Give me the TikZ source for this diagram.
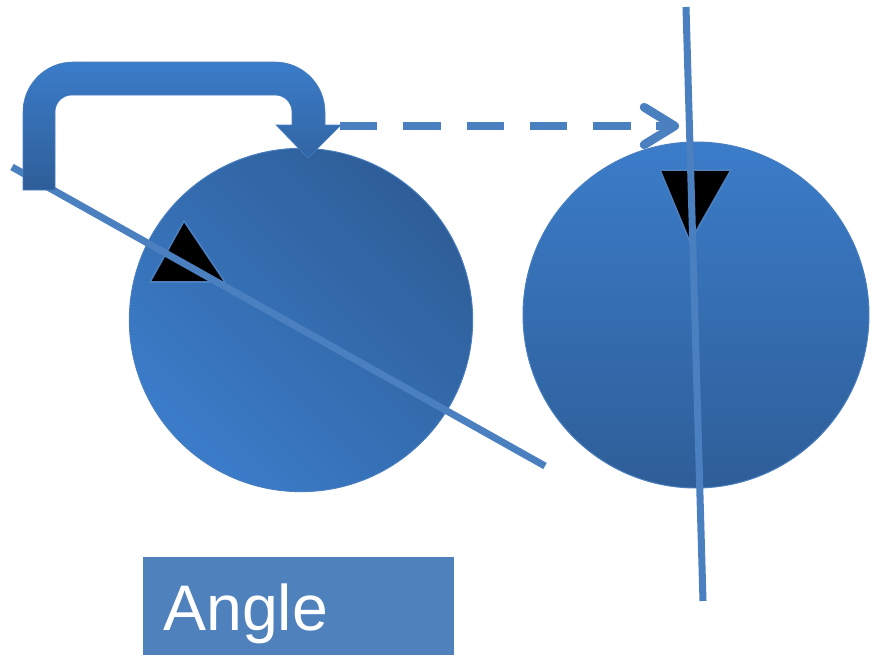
\documentclass[tikz,border=0pt]{standalone}
\usepackage{fontspec}
\setsansfont{Liberation Sans}
\usetikzlibrary{arrows.meta,positioning}
\definecolor{cLight}{RGB}{59,124,201}
\definecolor{cDark}{RGB}{46,94,152}
\definecolor{cLine}{RGB}{74,127,192}
\definecolor{cLabel}{RGB}{79,129,189}

\begin{document}
\begin{tikzpicture}[
    x=0.03cm, y=-0.03cm,
    disc/.style={circle,draw=cLine,line width=0.8pt,inner sep=0pt},
    axis/.style={draw=cLine,line width=6pt},
    marker/.style={fill=black,draw=cLine,line width=1.4pt,line join=round},
    labelbox/.style={rectangle,fill=cLabel,inner sep=0pt,minimum width=9.33cm,minimum height=2.94cm},
    >={Straight Barb[length=26pt,width=32pt,round]}
  ]
  \useasboundingbox (0,0) rectangle (883,660);
  % Discs
  \node[disc,minimum size=10.3cm,top color=cDark,bottom color=cLight,shading angle=-45] (leftDisc) at (301,320) {};
  \node[disc,minimum size=10.38cm,top color=cLight,bottom color=cDark] (rightDisc) at (696,315) {};
  % Markers
  \coordinate (lTop) at (184,221);
  \coordinate (lLeft) at (150,282);
  \coordinate (lRight) at (225,282);
  \draw[marker] (lTop) -- (lRight) -- (lLeft) -- cycle;
  \coordinate (rLeft) at (660,170);
  \coordinate (rRight) at (731,170);
  \coordinate (rTip) at (690,242);
  \draw[marker] (rLeft) -- (rRight) -- (rTip) -- cycle;
  % Axes
  \coordinate (lA) at (12,167);
  \coordinate (lB) at (545,466);
  \coordinate (rA) at (686,7);
  \coordinate (rB) at (703,601);
  \draw[axis] (lA) -- (lB);
  \draw[axis] (rA) -- (rB);
  % U-turn block arrow
  \shade[top color=cLight,bottom color=cDark,draw=cLine,line width=0.5pt]
    (23,190) -- (23,112) arc[start angle=180,end angle=270,radius=50]
    -- (275,62) arc[start angle=270,end angle=360,radius=50]
    -- (325,125) -- (341,125) -- (308,158) -- (276,125) -- (292,125)
    -- (292,112) arc[start angle=0,end angle=-90,radius=17]
    -- (72,95) arc[start angle=270,end angle=180,radius=17]
    -- (55,190) -- cycle;
  % Dashed transfer
  \coordinate (dashStart) at (340,126);
  \coordinate (dashEnd) at (679,126);
  \draw[->,draw=cLine,line width=7.5pt,dash pattern=on 32pt off 22pt] (dashStart) -- (dashEnd);
  % Label
  \node[labelbox,anchor=north west] (labelBox) at (143,557) {};
  \node[font=\sffamily\fontsize{55}{60}\selectfont,text=white,anchor=base west,inner sep=0pt] (angleText) at (163,630) {Angle};
\end{tikzpicture}
\end{document}
